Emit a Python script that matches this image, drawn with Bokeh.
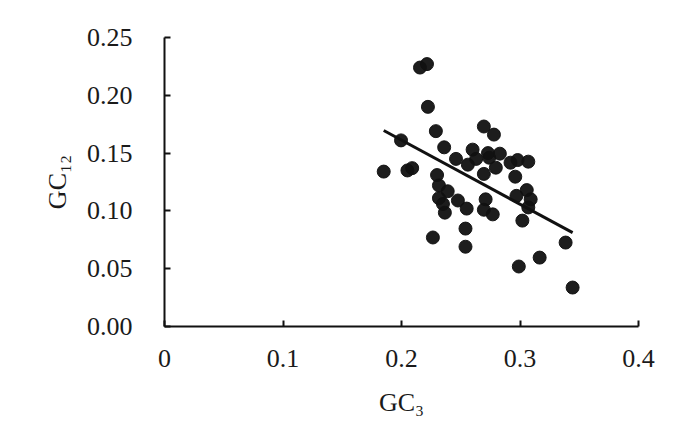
from bokeh.plotting import figure
from bokeh.models import Range1d, FixedTicker
from bokeh.embed import file_html
from bokeh.resources import INLINE

# GC3 (x) and GC12 (y) values
gc3 = [0.185, 0.205, 0.209, 0.1996, 0.2156, 0.2215, 0.2223, 0.229, 0.236, 0.246,
       0.230, 0.2316, 0.239, 0.2316, 0.2476, 0.235, 0.2366, 0.255, 0.254, 0.254,
       0.2265, 0.2695, 0.278, 0.260, 0.263, 0.256, 0.273, 0.274, 0.283, 0.2796,
       0.292, 0.298, 0.307, 0.296, 0.2695, 0.3057, 0.297, 0.309, 0.271, 0.2695,
       0.277, 0.302, 0.307, 0.3385, 0.3166, 0.299, 0.3444]
gc12 = [0.134, 0.135, 0.137, 0.161, 0.224, 0.227, 0.190, 0.169, 0.155, 0.145,
        0.131, 0.122, 0.117, 0.111, 0.109, 0.106, 0.0985, 0.102, 0.0847, 0.069,
        0.077, 0.173, 0.166, 0.153, 0.145, 0.140, 0.150, 0.146, 0.1495, 0.1374,
        0.1417, 0.144, 0.1426, 0.1296, 0.132, 0.118, 0.113, 0.110, 0.110, 0.101,
        0.097, 0.0916, 0.103, 0.0726, 0.0596, 0.0519, 0.0337]

fit_slope = -0.554
fit_intercept = 0.272

x_ticks = [0, 0.1, 0.2, 0.3, 0.4]
x_tick_labels = ["0", "0.1", "0.2", "0.3", "0.4"]
y_ticks = [0.0, 0.05, 0.10, 0.15, 0.20, 0.25]
y_tick_labels = ["0.00", "0.05", "0.10", "0.15", "0.20", "0.25"]
x_title = "GC\u2083"
y_title = "GC\u2081\u2082"

FONT = "Liberation Serif"

p = figure(width=680, height=425, output_backend="svg", toolbar_location=None,
           x_range=Range1d(0, 0.4), y_range=Range1d(0, 0.25),
           min_border_left=164, min_border_right=42, min_border_top=37,
           min_border_bottom=99)
p.outline_line_color = None
p.grid.visible = False
p.background_fill_color = "white"
p.border_fill_color = "white"

for ax, ticks, labels in ((p.xaxis[0], x_ticks, x_tick_labels), (p.yaxis[0], y_ticks, y_tick_labels)):
    ax.ticker = FixedTicker(ticks=ticks)
    ax.major_label_overrides = {t: l for t, l in zip(ticks, labels)}
    ax.major_tick_in = 6
    ax.major_tick_out = 0
    ax.minor_tick_line_color = None
    ax.axis_line_width = 2
    ax.major_tick_line_width = 2
    ax.axis_line_color = "#111111"
    ax.major_tick_line_color = "#111111"
    ax.major_label_text_font = FONT
    ax.major_label_text_font_size = "26px"
    ax.major_label_text_color = "#1a1a1a"
    ax.axis_label_text_font = FONT
    ax.axis_label_text_font_size = "26px"
    ax.axis_label_text_font_style = "normal"
    ax.axis_label_text_color = "#1a1a1a"

p.xaxis.major_label_standoff = 23
p.yaxis.major_label_standoff = 32
p.xaxis.axis_label = x_title
p.yaxis.axis_label = y_title
p.xaxis.axis_label_standoff = 18
p.yaxis.axis_label_standoff = 12

p.scatter(gc3, gc12, size=13, color="#111111", alpha=0.95)

xs = [min(gc3), max(gc3)]
ys = [fit_intercept + fit_slope * v for v in xs]
p.line(xs, ys, line_width=3, color="#111111")

open("out.html", "w").write(file_html(p, INLINE))
